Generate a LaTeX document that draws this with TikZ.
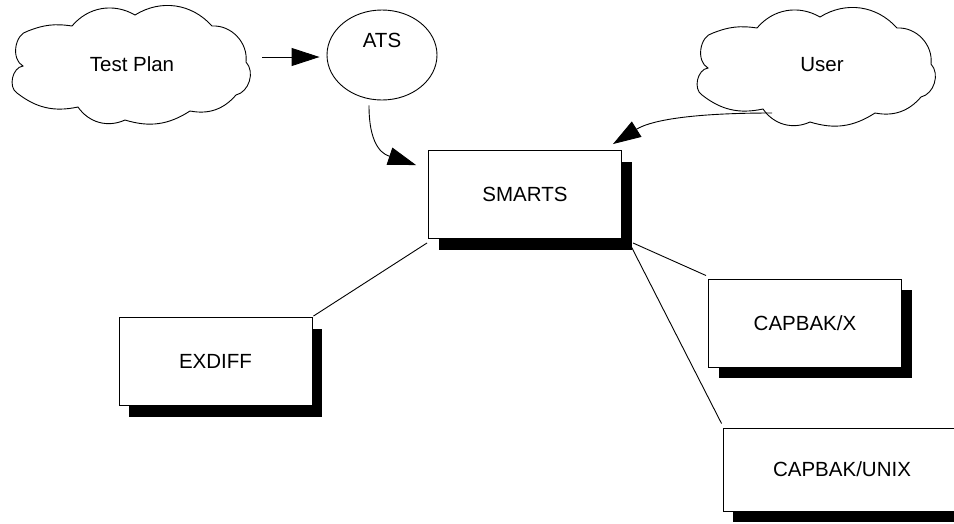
\documentclass[tikz,border=0pt]{standalone}
\usepackage{fontspec}
\setmainfont{Liberation Sans}
\usetikzlibrary{shapes.geometric,shadows,arrows.meta}
\begin{document}
\begin{tikzpicture}[x=1pt,y=-1pt, line width=0.9pt,
  every node/.style={font=\fontsize{20.5}{24}\selectfont},
  box/.style={draw, fill=white, minimum width=193pt, minimum height=88pt, inner sep=0pt,
    general shadow={fill=black, shadow xshift=10pt, shadow yshift=-11pt}},
  cloudtext/.style={ellipse, minimum width=230pt, minimum height=105pt, inner sep=0pt},
  cloudoutline/.pic={\draw (-104,-33) to[bend left=15] (-60,-38) to[bend left=40] (3,-49)
     to[bend left=40] (80,-38) to[bend left=50] (114,-2) to[bend left=60] (104,31)
     to[bend left=30] (58,47) to[bend left=25] (-7,56) to[bend left=40] (-54,43)
     to[bend left=25] (-115,29) to[bend left=70] (-109,2) to[bend left=70] cycle;},
  bigarrow/.style={-{Triangle[length=28pt,width=18pt]}}]
\useasboundingbox (0,0) rectangle (954,523);
\clip (0,0) rectangle (954,523);
\pic at (132,64) {cloudoutline};
\node[cloudtext] (plan) at (132,64) {Test Plan};
\node[draw, ellipse, minimum width=110pt, minimum height=90pt, inner sep=0pt] (ats) at (382,55) {};
\node[yshift=15pt] (atstext) at (ats.center) {ATS};
\pic at (817,66) {cloudoutline};
\node[cloudtext] (user) at (822,65) {User};
\node[box] (smarts) at (525,194.5) {SMARTS};
\node[box] (exdiff) at (215.5,361.5) {EXDIFF};
\node[box] (capx) at (805,323) {CAPBAK/X};
\node[box, minimum width=238pt, minimum height=83pt] (capu) at (842,469.5) {CAPBAK/UNIX};
\draw[bigarrow] ([shift={(130,-7)}]plan.center) -- ([shift={(-7,2)}]ats.west);
\draw[bigarrow] ([shift={(-13,5)}]ats.south) .. controls +(0,45) and +(-30,-10) .. ([shift={(-12,15)}]smarts.north west);
\draw[bigarrow] ([shift={(-50,48)}]user.center) .. controls +(-90,0) and +(35,-22) .. ([shift={(-9,-6)}]smarts.north east);
\draw ([shift={(-1,4)}]smarts.south west) -- ([shift={(1,-1)}]exdiff.north east);
\draw ([shift={(11,4)}]smarts.south east) -- ([shift={(-2,-3)}]capx.north west);
\draw ([shift={(9,7)}]smarts.south east) -- ([shift={(-1,-4)}]capu.north west);
\end{tikzpicture}
\end{document}
